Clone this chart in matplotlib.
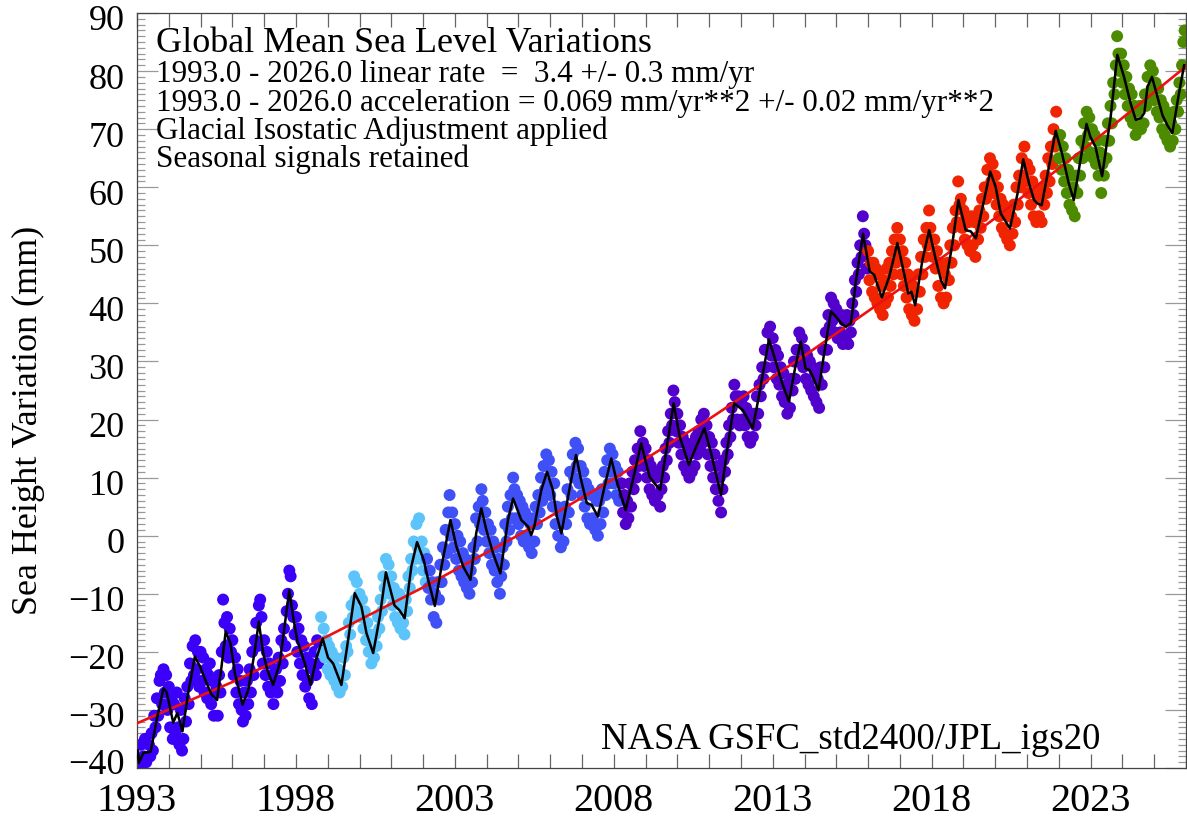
import numpy as np
import matplotlib
matplotlib.use("Agg")
import matplotlib.pyplot as plt
from matplotlib.ticker import FixedLocator, MultipleLocator
from matplotlib.transforms import ScaledTranslation

W, H = 1187, 826
DPI = 100

# ---------------- data ----------------
# smoothed (black) curve
curve_year = [1993.02, 1993.06, 1993.20, 1993.43, 1993.62, 1993.83, 1993.93, 1994.14, 1994.27, 1994.43,
              1994.61, 1994.82, 1994.98, 1995.19, 1995.35, 1995.52, 1995.66, 1995.79, 1995.94, 1996.08,
              1996.32, 1996.50, 1996.71, 1996.83, 1996.97, 1997.10, 1997.28, 1997.49, 1997.79, 1997.91,
              1998.04, 1998.28, 1998.46, 1998.63, 1998.84, 1999.01, 1999.17, 1999.43, 1999.64, 1999.85,
              2000.06, 2000.22, 2000.43, 2000.64, 2000.83, 2001.10, 2001.25, 2001.42, 2001.63, 2001.81,
              2002.02, 2002.16, 2002.37, 2002.58, 2002.86, 2003.05, 2003.26, 2003.49, 2003.67, 2003.83,
              2003.99, 2004.20, 2004.43, 2004.67, 2004.83, 2005.09, 2005.30, 2005.40, 2005.50, 2005.72,
              2005.90, 2006.08, 2006.21, 2006.35, 2006.60, 2006.81, 2006.97, 2007.15, 2007.30, 2007.50,
              2007.71, 2007.92, 2008.08, 2008.37, 2008.60, 2008.86, 2009.12, 2009.28, 2009.46, 2009.88,
              2010.07, 2010.36, 2010.59, 2010.85, 2011.06, 2011.37, 2011.58, 2011.79, 2012.06, 2012.37,
              2012.56, 2012.88, 2013.11, 2013.30, 2013.51, 2013.69, 2013.88, 2014.03, 2014.16, 2014.26,
              2014.44, 2014.60, 2014.83, 2014.99, 2015.15, 2015.30, 2015.46, 2015.62, 2015.84, 2016.05,
              2016.19, 2016.43, 2016.66, 2016.92, 2017.13, 2017.26, 2017.36, 2017.48, 2017.71, 2017.92,
              2018.13, 2018.29, 2018.42, 2018.65, 2018.84, 2019.07, 2019.23, 2019.39, 2019.84, 2020.01,
              2020.17, 2020.46, 2020.70, 2020.88, 2021.06, 2021.22, 2021.33, 2021.46, 2021.90, 2022.10,
              2022.31, 2022.47, 2022.87, 2022.99, 2023.15, 2023.36, 2023.63, 2023.84, 2024.05, 2024.26,
              2024.42, 2024.58, 2024.69, 2024.79, 2024.93, 2025.10, 2025.26, 2025.42, 2025.57, 2025.78,
              2025.94]
curve_mm = [-37.0, -39.1, -37.4, -37.2, -31.7, -26.3, -26.9, -32.2, -30.5, -33.7,
            -27.1, -20.8, -22.5, -25.4, -27.4, -28.3, -22.5, -16.5, -18.5, -23.7,
            -29.1, -26.6, -19.7, -14.8, -20.2, -23.1, -25.7, -22.0, -9.4, -13.9,
            -18.0, -22.0, -25.7, -21.4, -17.7, -21.0, -22.0, -25.7, -18.0, -9.9,
            -12.2, -16.8, -20.2, -13.9, -6.3, -12.0, -12.8, -14.2, -5.3, -1.1,
            -4.2, -7.6, -12.1, -5.3, 2.7, -1.9, -5.3, -7.6, 0.4, 4.7,
            1.0, -3.0, -6.5, 2.7, 6.4, 2.7, 1.6, 0.1, 1.6, 7.9,
            11.0, 7.9, 3.3, 0.4, 7.9, 13.9, 9.6, 5.6, 5.3, 3.3,
            8.5, 13.3, 9.6, 4.4, 9.6, 15.9, 10.2, 9.0, 7.9, 22.8,
            17.1, 12.2, 15.3, 18.5, 14.2, 7.0, 15.3, 22.8, 21.6, 18.5,
            23.9, 33.8, 29.7, 26.2, 23.1, 28.5, 33.4, 28.8, 28.5, 27.4,
            25.0, 30.8, 38.6, 37.7, 36.6, 36.0, 36.6, 44.0, 52.0, 45.5,
            44.9, 41.0, 44.5, 50.4, 45.2, 41.7, 42.0, 39.7, 47.5, 52.6,
            47.5, 44.0, 42.6, 50.3, 57.8, 52.6, 52.4, 51.2, 62.7, 60.1,
            55.5, 52.9, 58.9, 64.8, 60.7, 57.8, 57.2, 56.9, 69.7, 65.8,
            60.7, 57.8, 70.9, 68.7, 67.0, 61.9, 72.1, 82.8, 79.0, 74.4,
            71.6, 71.9, 72.8, 77.3, 79.0, 75.6, 72.4, 70.6, 69.3, 76.2,
            81.0]

# red fitted trend line
fit_year = [1993, 1996, 1999, 2002, 2005, 2008, 2011, 2014, 2017, 2020, 2023, 2026]
fit_mm = [-32.3, -25.2, -17.3, -8.9, 0.1, 9.8, 20.1, 31.0, 42.5, 54.7, 67.5, 80.8]

# individual measurements (one value every ~15 days) per mission
STEP = 1.0 / 24.0
topex_start = 1993.0
topex_mm = [-42, -41, -40, -36, -43, -38, -35, -39, -41, -36, -38, -34, -37, -31, -33, -28, -31, -25, -24, -29, -23, -27, -24, -30,
            -26, -33, -28, -35, -29, -34, -27, -33, -36, -30, -37, -35, -28, -32, -26, -29, -22, -25, -19, -24, -18, -23, -20, -26,
            -20, -25, -21, -27, -23, -28, -24, -22, -29, -25, -31, -27, -26, -31, -24, -27, -20, -11, -15, -19, -14, -21, -16, -20,
            -18, -24, -21, -27, -23, -29, -25, -30, -32, -27, -31, -25, -29, -23, -27, -20, -24, -18, -15, -19, -12, -11, -14, -22,
            -18, -24, -20, -26, -22, -27, -24, -29, -26, -23, -27, -21, -25, -18, -22, -16, -19, -13, -10, -6, -7, -12, -14, -17,
            -14, -20, -16, -22, -18, -24, -19, -26, -21, -25, -28, -22, -29, -23, -20, -24, -18, -22, -19]
tpxb_start = 1998.79
tpxb_mm = [-14, -20, -16, -21, -18, -23, -19, -24, -20, -22, -25, -21, -26, -23, -27, -24, -26, -21, -24, -19,
           -20, -15, -17, -12, -14, -7, -11, -8, -13, -10, -14, -11, -16, -13, -18, -15, -20, -17, -22, -19,
           -21, -17, -19, -14, -16, -11, -13, -7, -9, -4, -8, -5, -10, -7, -12, -9, -14, -11, -15, -10,
           -16, -12, -15, -17, -11, -13, -7, -9, -4, -6, -1, -4, 2, -2, 3, -4, -1, -6, -3, -8]
jason1_start = 2002.125
jason1_mm = [-4, -9, -6, -11, -8, -14, -10, -15, -8, -11, -5, -8, -2, -5, 1, -3, 4, 7, 0, 4, -2, 2, -4, 0,
             -6, -1, -7, -3, -8, -4, -9, -5, -10, -6, -8, -2, -4, 3, -1, 5, 2, 8, 6, 1, 4, -1, 2, -3,
             1, -5, -1, -6, -2, -8, -4, -10, -7, -2, -5, 2, -1, 5, 1, 7, 3, 10, 8, 3, 7, 2, 6, 0,
             5, -1, 4, 0, 3, -2, 2, -3, 3, -1, 5, 2, 7, 4, 10, 6, 12, 8, 14, 9, 13, 7, 11, 5,
             9, 2, 5, 0, 4, -2, 3, -1, 5, 2, 8, 4, 11, 7, 14, 10, 16, 12, 15, 9, 12, 7, 11, 5,
             9, 3, 8, 2, 7, 3, 7, 1, 6, 0, 6, 2, 8, 4, 11, 7, 13, 9, 15, 11, 14, 9, 12, 7,
             11, 6, 9]
jason2_start = 2008.25
jason2_mm = [9, 4, 7, 2, 6, 3, 9, 5, 11, 8, 13, 10, 15, 12, 18, 14, 16, 12, 15, 10, 13, 8, 12, 7,
             11, 6, 10, 7, 11, 5, 8, 12, 10, 15, 13, 18, 16, 21, 19, 25, 23, 18, 21, 16, 19, 14, 17, 12,
             16, 11, 14, 10, 15, 11, 16, 12, 17, 14, 18, 15, 20, 16, 21, 17, 19, 14, 17, 12, 16, 10, 14, 8,
             12, 6, 10, 4, 8, 13, 11, 16, 14, 19, 17, 22, 20, 26, 24, 20, 24, 19, 23, 20, 24, 19, 22, 17,
             21, 16, 20, 17, 21, 19, 24, 21, 26, 24, 29, 27, 32, 29, 35, 32, 36, 31, 34, 29, 32, 27, 31, 26,
             29, 24, 28, 23, 26, 21, 25, 22, 27, 25, 30, 27, 32, 30, 35, 32, 34, 29, 32, 27, 31, 26, 30, 25,
             29, 24, 28, 23, 27, 22, 29, 26, 32, 29, 35, 32, 38, 36, 41, 37, 40, 35, 39, 34, 38, 35, 38, 33,
             37, 34, 38, 33, 37, 35, 40, 38, 44, 42, 47, 45, 50, 48, 55, 52, 50, 46]
jason3_start = 2016.0
jason3_mm = [49, 44, 47, 42, 47, 41, 46, 40, 45, 39, 43, 38, 44, 40, 46, 41, 47, 43, 49, 45, 51, 47, 53, 48,
             51, 45, 49, 43, 47, 41, 45, 39, 44, 38, 43, 37, 42, 39, 45, 42, 48, 45, 51, 48, 53, 50, 56, 53,
             51, 48, 51, 46, 49, 43, 47, 41, 46, 40, 45, 41, 47, 44, 50, 47, 53, 50, 56, 54, 61, 57, 58, 53,
             56, 51, 55, 50, 54, 49, 55, 50, 54, 48, 54, 51, 56, 53, 58, 55, 60, 58, 63, 60, 65, 61, 64, 59,
             62, 57, 60, 55, 58, 53, 57, 52, 56, 51, 55, 50, 55, 52, 57, 54, 60, 57, 62, 60, 65, 62, 67, 61,
             64, 59, 63, 57, 61, 55, 59, 54, 59, 55, 58, 54, 60, 57, 62, 59, 65, 61, 67, 64, 70, 67, 73, 68]
s6_start = 2022.0
s6_mm = [65, 69, 63, 67, 61, 65, 59, 63, 57, 62, 56, 60, 55, 62, 59, 65, 62, 68, 65, 71, 67, 73, 69, 72,
         66, 70, 65, 69, 64, 68, 62, 66, 59, 64, 62, 68, 65, 71, 68, 74, 71, 78, 76, 81, 86, 83, 80, 83,
         78, 81, 76, 79, 74, 77, 72, 76, 71, 74, 69, 73, 70, 74, 70, 74, 71, 76, 74, 79, 76, 81, 77, 80,
         75, 78, 73, 77, 72, 75, 70, 74, 69, 73, 68, 72, 67, 71, 68, 73, 70, 75, 73, 78, 76, 81, 85, 87]

mission_colors = {"topex": "#3a00f8", "tpxb": "#5cc4fa", "jason1": "#3f50f6",
                  "jason2": "#5200cc", "jason3": "#f02400", "s6": "#4c8a00"}

info_lines = ["Global Mean Sea Level Variations",
              "1993.0 - 2026.0 linear rate  =  3.4 +/- 0.3 mm/yr",
              "1993.0 - 2026.0 acceleration = 0.069 mm/yr**2 +/- 0.02 mm/yr**2",
              "Glacial Isostatic Adjustment applied",
              "Seasonal signals retained"]
source_text = "NASA GSFC_std2400/JPL_igs20"
ylabel_text = "Sea Height Variation (mm)"
xtick_years = [1993, 1998, 2003, 2008, 2013, 2018, 2023]

# ---------------- plotting ----------------
SERIF = ["Liberation Serif", "DejaVu Serif"]
plt.rcParams["font.family"] = SERIF

fig = plt.figure(figsize=(W / DPI, H / DPI), dpi=DPI)
L, R, T, B = 137, 1186, 13, 768
ax = fig.add_axes([L / W, 1 - B / H, (R - L) / W, (B - T) / H])

segments = [(topex_start, topex_mm, "topex"), (tpxb_start, tpxb_mm, "tpxb"),
            (jason1_start, jason1_mm, "jason1"), (jason2_start, jason2_mm, "jason2"),
            (jason3_start, jason3_mm, "jason3"), (s6_start, s6_mm, "s6")]
for start, vals, key in segments:
    t = start + np.arange(len(vals)) * STEP
    ax.scatter(t, vals, s=74, c=mission_colors[key], edgecolors="none", zorder=2)

ax.plot(fit_year, fit_mm, color="#ee1010", lw=1.9, zorder=3)
ax.plot(curve_year, curve_mm, color="black", lw=1.8, zorder=4)

ax.set_xlim(1993, 2026)
ax.set_ylim(-40, 90)

ax.xaxis.set_major_locator(FixedLocator(xtick_years))
ax.xaxis.set_minor_locator(FixedLocator(list(range(1993, 2027))))
ax.set_xticklabels([str(y) for y in xtick_years])
ax.yaxis.set_major_locator(MultipleLocator(10))
ax.yaxis.set_minor_locator(MultipleLocator(1))

tick_col = "#666666"
ax.tick_params(axis="x", which="both", direction="in", length=10, width=0.9, color=tick_col,
               top=True, bottom=True, labelsize=29, pad=11)
ax.tick_params(axis="y", which="major", direction="in", length=15, width=0.9, color="#999999",
               left=True, right=True, labelsize=26, pad=9)
ax.tick_params(axis="y", which="minor", direction="in", length=6, width=0.9, color="#999999",
               left=True, right=True)
for lab in ax.get_xticklabels() + ax.get_yticklabels():
    lab.set_family(SERIF)
for sp in ax.spines.values():
    sp.set_color("#444444")
    sp.set_linewidth(0.9)

# y tick labels sit slightly below their ticks; the lowest one is kept inside the frame
fig.canvas.draw()
for val, lab in zip(ax.get_yticks(), ax.get_yticklabels()):
    dy_px = 7 if val <= -40 else -5
    lab.set_transform(lab.get_transform() + ScaledTranslation(0, dy_px / DPI, fig.dpi_scale_trans))

ax.set_ylabel(ylabel_text, fontsize=26, family=SERIF)
ax.yaxis.set_label_coords(-0.088, 0.46)

baselines = [52, 82, 111, 139, 167]
sizes = [26, 22.4, 22.4, 22.4, 22.4]
for txt, yb, fs in zip(info_lines, baselines, sizes):
    fig.text(156 / W, 1 - yb / H, txt, fontsize=fs, va="baseline", ha="left", family=SERIF)

fig.text(1100 / W, 1 - 749 / H, source_text, fontsize=26.5, va="baseline", ha="right", family=SERIF)

fig.savefig("out.png", dpi=DPI)
